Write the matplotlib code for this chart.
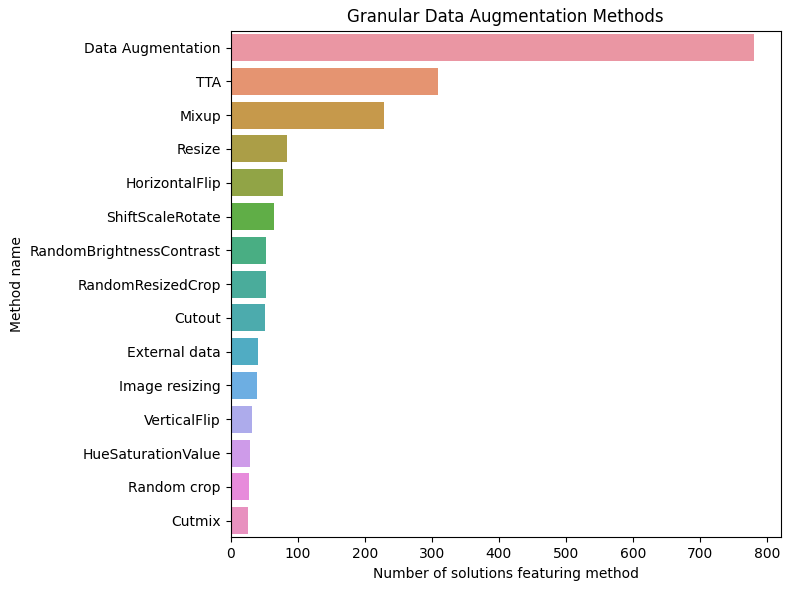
import matplotlib
matplotlib.use("Agg")
import matplotlib.pyplot as plt
import seaborn as sns

# %% Data
methods = ['Data Augmentation', 'TTA', 'Mixup', 'Resize', 'HorizontalFlip',
           'ShiftScaleRotate', 'RandomBrightnessContrast', 'RandomResizedCrop',
           'Cutout', 'External data', 'Image resizing', 'VerticalFlip',
           'HueSaturationValue', 'Random crop', 'Cutmix']
counts = [781, 309, 228, 84, 78, 65, 53, 53, 51, 41, 39, 32, 29, 27, 26]

# %% Plot
fig, ax = plt.subplots(figsize=(7.9, 5.9), dpi=100)
pal = sns.husl_palette(len(methods), l=.7)
sns.barplot(x=counts, y=methods, hue=methods, palette=pal, legend=False, ax=ax)
ax.set_title('Granular Data Augmentation Methods')
ax.set_xlabel('Number of solutions featuring method')
ax.set_ylabel('Method name')
fig.subplots_adjust(left=0.292, right=0.988, top=0.948, bottom=0.089)
plt.savefig('out.png')
